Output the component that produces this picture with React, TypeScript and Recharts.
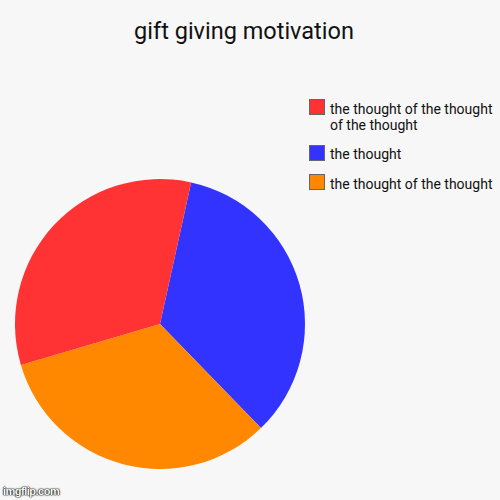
import React from "react";
import { PieChart, Pie, Cell, Legend } from "recharts";

// slices in drawing order, clockwise from the top
const sliceNames = ["the thought", "the thought of the thought", "the thought of the thought of the thought"];
const sliceValues = [34.3, 32.7, 33.0];
const sliceColors = ["#3333ff", "#ff8800", "#ff3333"];
// the legend lists them in another order
const legendOrder = [2, 0, 1];

const data = sliceNames.map((name, i) => ({ name, value: sliceValues[i] }));

const renderLegend = () => (
  <div style={{ fontFamily: "Roboto, Arial, sans-serif", fontSize: 14, color: "#111" }}>
    {legendOrder.map((i) => (
      <div key={i} style={{ display: "flex", alignItems: "flex-start", marginBottom: 12 }}>
        <div
          style={{
            width: 16,
            height: 16,
            boxSizing: "border-box",
            background: sliceColors[i],
            border: "1px solid #666",
            flexShrink: 0,
          }}
        />
        <div style={{ marginLeft: 5, width: 168, lineHeight: "16px", paddingTop: 1.5 }}>{sliceNames[i]}</div>
      </div>
    ))}
  </div>
);

const App: React.FC = () => {
  return (
    <div
      style={{
        position: "absolute",
        left: 0,
        top: 0,
        width: 500,
        height: 500,
        background: "#f7f7f7",
        overflow: "hidden",
      }}
    >
      <div
        style={{
          position: "absolute",
          top: 16.5,
          left: 0,
          width: 488,
          textAlign: "center",
          fontFamily: "Roboto, Arial, sans-serif",
          fontSize: 23.5,
          color: "#111",
        }}
      >
        gift giving motivation
      </div>
      <PieChart width={500} height={500} margin={{ top: 0, right: 0, bottom: 0, left: 0 }}>
        <Pie
          data={data}
          dataKey="value"
          nameKey="name"
          cx={160}
          cy={324}
          outerRadius={145}
          startAngle={77.6}
          endAngle={-282.4}
          stroke="none"
          isAnimationActive={false}
        >
          {data.map((d, i) => (
            <Cell key={d.name} fill={sliceColors[i]} />
          ))}
        </Pie>
        <Legend
          content={renderLegend}
          layout="vertical"
          wrapperStyle={{ position: "absolute", top: 99, left: 309, width: 190 }}
        />
      </PieChart>
      <div
        style={{
          position: "absolute",
          left: 3,
          top: 485,
          fontFamily: "Arial, sans-serif",
          fontSize: 11,
          fontWeight: "bold",
          color: "#fff",
          letterSpacing: -0.5,
          textShadow: "0 0 1px #000, 0 0 1px #000, 0 0 2px #000",
        }}
      >
        imgflip.com
      </div>
    </div>
  );
};

export default App;
